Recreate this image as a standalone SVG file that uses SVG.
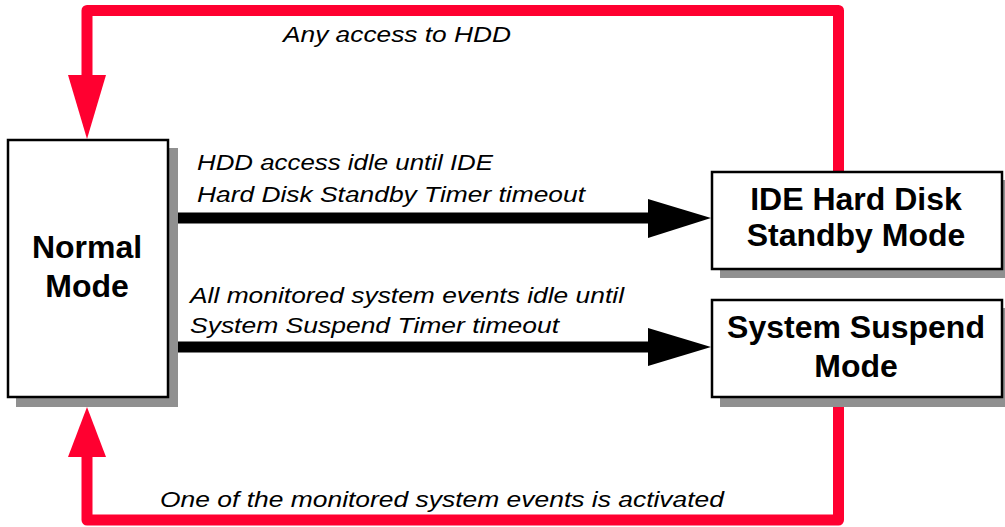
<svg xmlns="http://www.w3.org/2000/svg" width="1005" height="527" viewBox="0 0 1005 527">
  <style>
    .box { fill: #ffffff; stroke: #000000; stroke-width: 2.5; }
    .shadow { fill: #909090; }
    .title { font-family: "Liberation Sans", Arial, sans-serif; font-weight: bold; font-size: 32px; fill: #000000; text-anchor: middle; }
    .label { font-family: "Liberation Sans", Arial, sans-serif; font-style: italic; font-size: 22px; fill: #000000; }
    .red { fill: none; stroke: #ff0030; stroke-width: 11; stroke-linejoin: round; }
    .redhead { fill: #ff0030; }
    .black { fill: none; stroke: #000000; stroke-width: 11; }
    .blackhead { fill: #000000; }
  </style>

  <!-- connectors -->
  <g id="connectors">
    <!-- wake-up loop from IDE standby back to normal -->
    <path class="red" d="M838.5,172 V10.5 H87 V78"/>
    <polygon class="redhead" points="68,75 106,75 87,139"/>
    <!-- wake-up loop from system suspend back to normal -->
    <path class="red" d="M838.5,397 V520 H87 V454"/>
    <polygon class="redhead" points="68,457 106,457 87,407"/>
    <!-- timeouts into the power-saving modes -->
    <line class="black" x1="178" y1="218" x2="652" y2="218"/>
    <polygon class="blackhead" points="648,199 648,238 711,218"/>
    <line class="black" x1="178" y1="347" x2="652" y2="347"/>
    <polygon class="blackhead" points="648,328 648,366 711,347"/>

    <text class="label" x="283" y="42" textLength="228" lengthAdjust="spacingAndGlyphs">Any access to HDD</text>
    <text class="label" x="197" y="170" textLength="296" lengthAdjust="spacingAndGlyphs">HDD access idle until IDE</text>
    <text class="label" x="197" y="202" textLength="388" lengthAdjust="spacingAndGlyphs">Hard Disk Standby Timer timeout</text>
    <text class="label" x="190" y="303" textLength="434" lengthAdjust="spacingAndGlyphs">All monitored system events idle until</text>
    <text class="label" x="190" y="333" textLength="369" lengthAdjust="spacingAndGlyphs">System Suspend Timer timeout</text>
    <text class="label" x="160" y="507" textLength="564" lengthAdjust="spacingAndGlyphs">One of the monitored system events is activated</text>
  </g>

  <!-- nodes -->
  <g id="normal-mode">
    <rect class="shadow" x="16" y="148" width="162" height="259"/>
    <rect class="box" x="8" y="140" width="160" height="257"/>
    <text class="title" x="87" y="258">Normal</text>
    <text class="title" x="87" y="297">Mode</text>
  </g>

  <g id="ide-standby-mode">
    <rect class="shadow" x="720" y="180" width="292" height="98"/>
    <rect class="box" x="712" y="172" width="290" height="97"/>
    <text class="title" x="856" y="210">IDE Hard Disk</text>
    <text class="title" x="856" y="246">Standby Mode</text>
  </g>

  <g id="system-suspend-mode">
    <rect class="shadow" x="720" y="308" width="292" height="99"/>
    <rect class="box" x="712" y="300" width="290" height="97"/>
    <text class="title" x="856" y="338">System Suspend</text>
    <text class="title" x="856" y="377">Mode</text>
  </g>
</svg>
